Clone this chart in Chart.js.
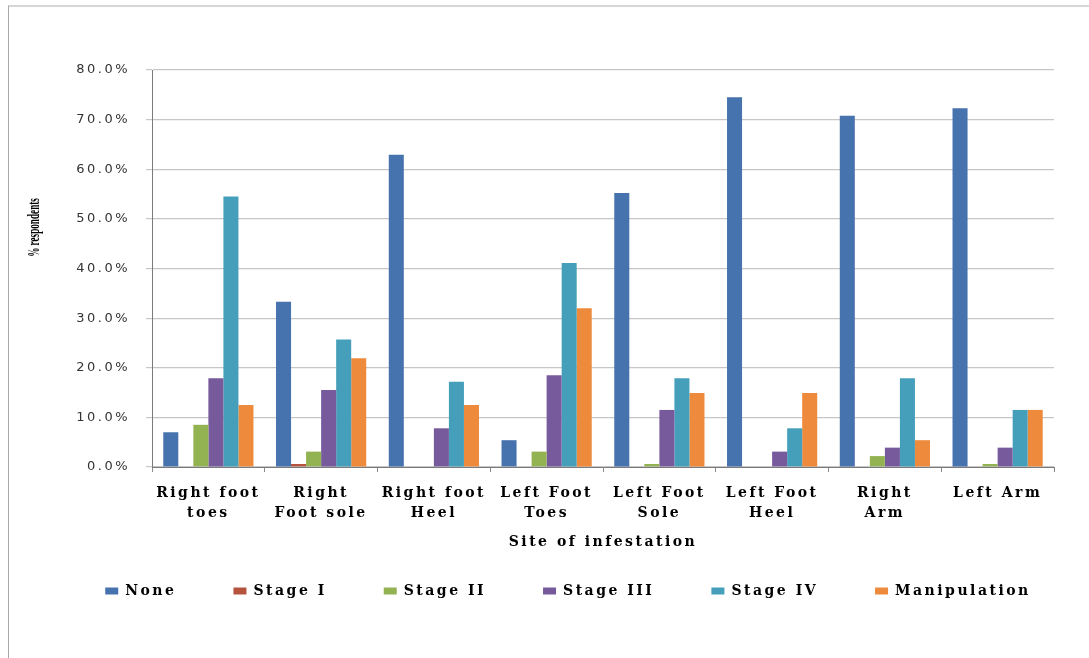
<!DOCTYPE html>
<html>
<head>
<meta charset="utf-8">
<title>Site of infestation</title>
<script src="https://cdn.jsdelivr.net/npm/chart.js@4"></script>
<style>
  html, body { margin: 0; padding: 0; background: #fff; overflow: hidden; }
  #frame {
    position: absolute; left: 8px; top: 5px; width: 1200px; height: 800px;
    border-left: 1px solid #a8a8a8; border-top: 2px solid #d6d6d6;
  }
  #chart { position: absolute; left: 0; top: 0; }
</style>
</head>
<body>
<div id="frame"></div>
<canvas id="chart" width="1089" height="658"></canvas>
<script>
// categories (x axis)
const sites = [
  ['Right foot', 'toes'], ['Right', 'Foot sole'], ['Right foot', 'Heel'], ['Left Foot', 'Toes'],
  ['Left Foot', 'Sole'], ['Left Foot', 'Heel'], ['Right', 'Arm'], ['Left Arm']
];

// % respondents per stage
const none        = [7.0, 33.3, 62.9, 5.4, 55.2, 74.5, 70.8, 72.3];
const stageI      = [0, 0.6, 0, 0, 0, 0, 0, 0];
const stageII     = [8.5, 3.1, 0, 3.1, 0.6, 0, 2.2, 0.6];
const stageIII    = [17.9, 15.5, 7.8, 18.5, 11.5, 3.1, 3.9, 3.9];
const stageIV     = [54.5, 25.7, 17.2, 41.1, 17.9, 7.8, 17.9, 11.5];
const manipulation = [12.5, 21.9, 12.5, 32.0, 14.9, 14.9, 5.4, 11.5];

const yTicks = [0, 10, 20, 30, 40, 50, 60, 70, 80];

const SPACING = '2.5px';   // the original text is drawn wide
const LEGEND_SHIFT = 37;   // legend sits right of centre in the original

// letter spacing for all text, legend nudge, squeezed y title
const textLook = {
  id: 'textLook',
  beforeLayout(chart) {
    chart.ctx.letterSpacing = SPACING;
  },
  afterLayout(chart) {
    chart.legend.left += LEGEND_SHIFT;
    chart.legend.right += LEGEND_SHIFT;

    const y = chart.scales.y;
    if (y.$squeezed) return;
    const drawTitle = y.drawTitle;
    y.drawTitle = function () {
      const ctx = this.ctx;
      const cy = (this.top + this.bottom) / 2;
      ctx.save();
      ctx.letterSpacing = '0px';
      ctx.translate(0, cy - 41);
      ctx.scale(1, 0.54);
      ctx.translate(0, -cy);
      drawTitle.call(this);
      ctx.restore();
    };
    y.$squeezed = true;
  },
  beforeDraw(chart) {
    chart.ctx.letterSpacing = SPACING;
  }
};

const serif = 'DejaVu Serif';

new Chart(document.getElementById('chart'), {
  type: 'bar',
  data: {
    labels: sites,
    datasets: [
      { label: 'None', data: none, backgroundColor: '#4672ad' },
      { label: 'Stage I', data: stageI, backgroundColor: '#b5533f' },
      { label: 'Stage II', data: stageII, backgroundColor: '#93b353' },
      { label: 'Stage III', data: stageIII, backgroundColor: '#775a9c' },
      { label: 'Stage IV', data: stageIV, backgroundColor: '#459fbb' },
      { label: 'Manipulation', data: manipulation, backgroundColor: '#ee8a3c' }
    ]
  },
  options: {
    responsive: false,
    animation: false,
    datasets: { bar: { categoryPercentage: 0.8, barPercentage: 1.0, borderWidth: 0 } },
    layout: { autoPadding: false, padding: { left: 8, right: 35, top: 70, bottom: 50 } },
    plugins: {
      tooltip: { enabled: false },
      legend: {
        position: 'bottom',
        labels: {
          boxWidth: 13, boxHeight: 7, padding: 57, color: '#000',
          font: { family: serif, size: 14, weight: 'bold' }
        }
      }
    },
    scales: {
      x: {
        afterFit(scale) { scale.height = 60; },
        grid: { drawOnChartArea: false, drawTicks: true, tickLength: 5, color: '#8a8a8a' },
        border: { color: '#7a7a7a' },
        ticks: {
          padding: 11, color: '#000', maxRotation: 0, autoSkip: false,
          font: { family: serif, size: 14, weight: 'bold', lineHeight: 1.43 }
        },
        title: {
          display: true, text: 'Site of infestation', color: '#000',
          padding: { top: 0, bottom: -24 },
          font: { family: serif, size: 14, weight: 'bold' }
        }
      },
      y: {
        min: 0, max: 80,
        afterFit(scale) { scale.width = 144; },
        afterBuildTicks(scale) { scale.ticks = yTicks.map(v => ({ value: v })); },
        grid: { color: '#c6c6c6', lineWidth: 1.2, tickLength: 6 },
        border: { color: '#7a7a7a' },
        ticks: {
          padding: 16, color: '#333',
          font: { family: 'DejaVu Sans', size: 13 },
          callback: v => v.toFixed(1) + '%'
        },
        title: {
          display: true, text: '% respondents', color: '#000',
          padding: { top: 16, bottom: 0 },
          font: { family: 'Liberation Serif', size: 17, weight: 'bold' }
        }
      }
    }
  },
  plugins: [textLook]
});
</script>
</body>
</html>
